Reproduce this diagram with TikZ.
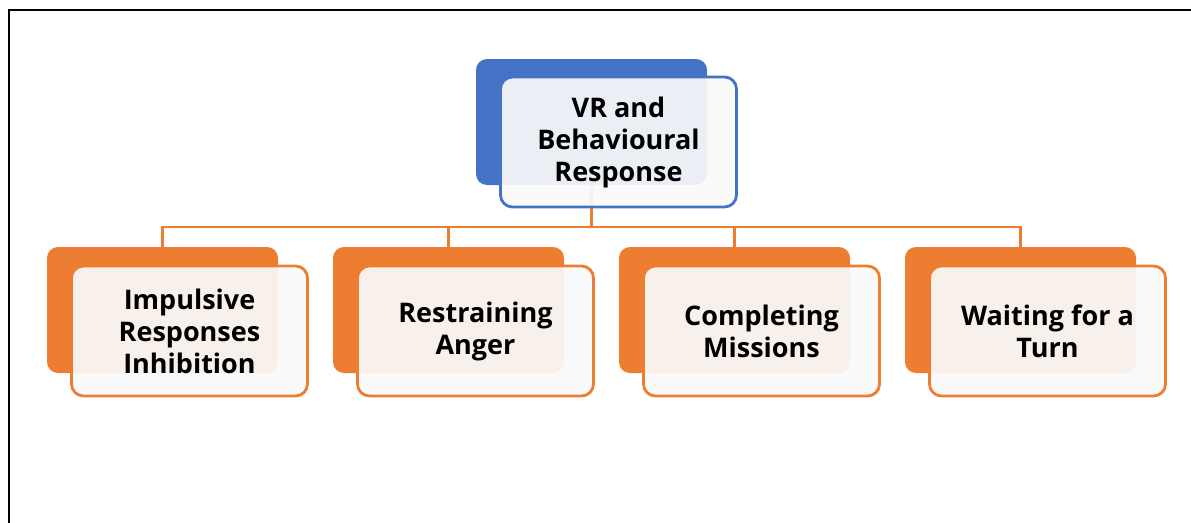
\documentclass[tikz,border=0pt]{standalone}
\usepackage{fontspec}
\setmainfont{Open Sans}
\definecolor{accblue}{HTML}{4472C4}
\definecolor{accorange}{HTML}{ED7D31}
\definecolor{cardfill}{HTML}{FAFAFA}
\begin{document}
\begin{tikzpicture}[x=1pt,y=-1pt,
  backcard/.style={rectangle, rounded corners=11pt, minimum width=231pt, minimum height=126pt, inner sep=0pt},
  frontcard/.style={rectangle, rounded corners=12pt, minimum width=236pt, minimum height=130pt,
     inner sep=0pt, draw, line width=2.8pt, fill=cardfill, fill opacity=0.92, text opacity=1,
     align=center, font=\fontsize{27}{32}\selectfont\bfseries},
  link/.style={draw=accorange, line width=2.8pt}
]
\useasboundingbox (0,0) rectangle (1191,522);
% outer frame
\draw[line width=2.8pt] (9,523) -- (9,10) -- (1192,10);

% back cards
\node[backcard, fill=accblue] (rootback) at (591.5,122) {};
\foreach \i/\x in {1/162.5, 2/448.5, 3/734.5, 4/1020.5}
  \node[backcard, fill=accorange] (back\i) at (\x,310) {};

% connectors
\coordinate (bus) at (591.5,227);
\draw[link] (rootback.south) -- (bus);
\foreach \i in {1,2,3,4}
  \draw[link] (back\i.north) |- (bus);

% front cards with labels
\node[frontcard, draw=accblue] (root) at (618.5,142) {VR and\\Behavioural\\Response};
\node[frontcard, draw=accorange] (c1) at (189.5,331) {Impulsive\\Responses\\Inhibition};
\node[frontcard, draw=accorange] (c2) at (475.5,331) {Restraining\\Anger};
\node[frontcard, draw=accorange] (c3) at (761.5,331) {Completing\\Missions};
\node[frontcard, draw=accorange] (c4) at (1047.5,331) {Waiting for a\\Turn};
\end{tikzpicture}
\end{document}
